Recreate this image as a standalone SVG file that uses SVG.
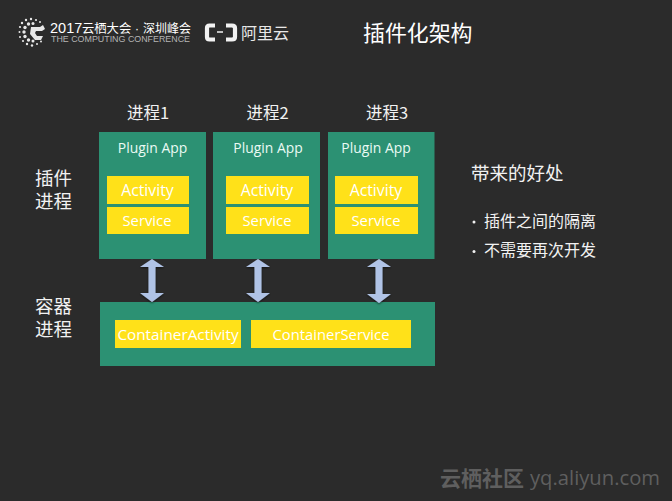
<svg xmlns="http://www.w3.org/2000/svg" width="672" height="501" viewBox="0 0 672 501">
<defs>
<filter id="sh" x="-30%" y="-10%" width="160%" height="125%"><feDropShadow dx="0" dy="1" stdDeviation="1" flood-color="#000" flood-opacity=".6"/></filter>
</defs>
<style>
text{font-family:"Open Sans","Noto Sans CJK SC",sans-serif;fill:#fff}
.cn{font-family:"Noto Sans CJK SC",sans-serif;font-size:16.5px;fill:#f2f2f2}
.side{font-family:"Liberation Sans","Noto Sans CJK SC",sans-serif;font-size:18.5px}
.li{font-size:16px}
.pa{font-size:13.9px;text-anchor:middle;fill:#eafaf4}
.it{font-size:15.3px;text-anchor:middle}
.ac{font-size:15.8px}
.sv{font-size:14.8px}
.g{fill:#2c9173}
.y{fill:#ffe119}
.a{fill:#b0c3e6;filter:url(#sh)}
.d{fill:#e8e8e8}
</style>
<rect width="672" height="501" fill="#2b2b2b"/>
<g id="header">
<g id="logo-dots" class="d">
<circle cx="19.500" cy="32" r="1"/><circle cx="20" cy="27" r="1.100"/><circle cx="22" cy="23" r="1.200"/><circle cx="26" cy="20" r="1.200"/><circle cx="31" cy="19" r="1.200"/><circle cx="36" cy="20" r="1.100"/><circle cx="40" cy="22" r="1"/>
<circle cx="20" cy="37" r="1"/><circle cx="23" cy="41" r="1.100"/><circle cx="27" cy="44" r="1.200"/><circle cx="32" cy="45.500" r="1.200"/><circle cx="37" cy="44" r="1"/><circle cx="41" cy="41.500" r="1"/>
<circle cx="24" cy="32" r="1.700"/><circle cx="25" cy="27.500" r="1.700"/><circle cx="28.500" cy="24" r="1.700"/><circle cx="33" cy="23.500" r="1.500"/><circle cx="25" cy="36.500" r="1.700"/><circle cx="28.500" cy="40" r="1.700"/><circle cx="33" cy="41" r="1.500"/>
<path d="M31 27h9l3-2 2 4-3 2h-6l-1 2 2 3h6l-2 4h-6l-5-6z"/>
</g>
<text x="50" y="32.500" font-size="14" fill="#e6e6e6" style="font-family:'Liberation Sans','Noto Sans CJK SC',sans-serif"><tspan x="50" font-size="14.500">2017</tspan><tspan x="82" font-size="12.300">云栖大会</tspan><tspan x="135" font-size="12">·</tspan><tspan x="143" font-size="12">深圳峰会</tspan><tspan x="51" y="42" font-size="8.800" fill="#b5b5b5" textLength="139" lengthAdjust="spacingAndGlyphs">THE COMPUTING CONFERENCE</tspan></text>
<path id="logo-bracket" d="M215 25.500h-5.500q-2.500 0-2.500 2.500v9q0 2.500 2.500 2.500h5.500M226 25.500h6q3 0 3 2.500v9q0 2.500-3 2.500h-6" fill="none" stroke="#f2f2f2" stroke-width="4.200"/>
<path d="M217 32h6" stroke="#f2f2f2" stroke-width="1.500"/>
<text x="241" y="39" font-size="16" style="font-family:'Noto Sans CJK SC',sans-serif;fill:#e8e8e8">阿里云</text>
<text x="363" y="41" class="cn" style="font-size:21.900px;fill:#fff">插件化架构</text>
</g>
<g id="proc-labels">
<text class="cn" x="127" y="119">进程1</text>
<text class="cn" x="246.500" y="119">进程2</text>
<text class="cn" x="366" y="119">进程3</text>
</g>
<g id="side-labels">
<text class="cn side" x="35" y="185">插件<tspan x="35" y="208">进程</tspan></text>
<text class="cn side" x="35" y="313">容器<tspan x="35" y="336">进程</tspan></text>
</g>
<g id="plugin1">
<rect class="g" x="99" y="132" width="107" height="127"/>
<text class="pa" x="152.500" y="153">Plugin App</text>
<rect class="y" x="107" y="176" width="82" height="28"/><text class="it ac" x="147.500" y="196">Activity</text>
<rect class="y" x="107" y="207" width="82" height="27"/><text class="it sv" x="147" y="226">Service</text>
</g>
<g id="plugin2">
<rect class="g" x="213" y="132" width="107" height="127"/>
<text class="pa" x="268" y="153">Plugin App</text>
<rect class="y" x="226" y="176" width="83" height="28"/><text class="it ac" x="267" y="196">Activity</text>
<rect class="y" x="226" y="207" width="83" height="27"/><text class="it sv" x="267" y="226">Service</text>
</g>
<g id="plugin3">
<rect class="g" x="328" y="132" width="106.500" height="127"/>
<text class="pa" x="376" y="153">Plugin App</text>
<rect class="y" x="335" y="176" width="83" height="28"/><text class="it ac" x="376" y="196">Activity</text>
<rect class="y" x="335" y="207" width="83" height="27"/><text class="it sv" x="376" y="226">Service</text>
</g>
<g id="container">
<rect class="g" x="100" y="302" width="335" height="64"/>
<rect class="y" x="115" y="320" width="126" height="28"/><text class="it" x="178" y="340">ContainerActivity</text>
<rect class="y" x="251" y="320" width="160" height="28"/><text class="it sv" x="331" y="340">ContainerService</text>
</g>
<g id="connectors">
<path class="a" d="M152 259l12 8h-8.500v26h8.500l-12 9-12-9h8.500v-26h-8.500z"/>
<path class="a" d="M258 259l12 8h-8.500v26h8.500l-12 9-12-9h8.500v-26h-8.500z"/>
<path class="a" d="M379 259l12 8h-8.500v27h8.500l-12 9-12-9h8.500v-27h-8.500z"/>
</g>
<g id="benefits">
<text class="cn side" x="471" y="180">带来的好处</text>
<circle cx="474" cy="222" r="1.500" fill="#f2f2f2"/>
<text class="cn li" x="484" y="227">插件之间的隔离</text>
<circle cx="474" cy="251.500" r="1.500" fill="#f2f2f2"/>
<text class="cn li" x="484" y="256">不需要再次开发</text>
</g>
<g id="watermark">
<text x="440" y="486" style="font-family:'Noto Sans CJK SC',sans-serif;font-weight:700;font-size:21px;fill:#5f5f5f">云栖社区</text>
<text x="530" y="485" style="font-family:'Open Sans',sans-serif;font-size:19.500px;fill:#5f5f5f" textLength="130" lengthAdjust="spacingAndGlyphs">yq.aliyun.com</text>
</g>
</svg>
